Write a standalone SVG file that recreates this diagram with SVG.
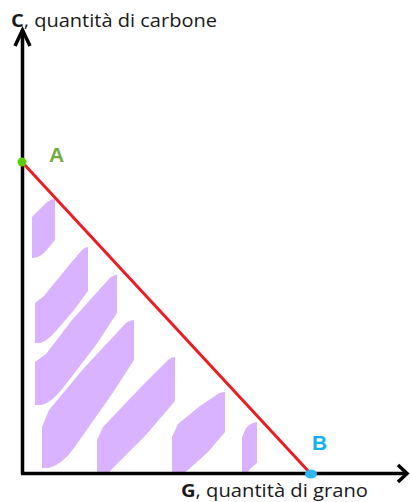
<svg xmlns="http://www.w3.org/2000/svg" width="410" height="502" viewBox="0 0 410 502">
<style>
.hatch{fill:#d9b3ff;stroke:none}
.axis{stroke:#000;stroke-width:3.5;fill:none}
.lbl{font-family:"Open Sans","Liberation Sans",sans-serif;font-size:18px;fill:#1a1a1a}
.pt{font-family:"Liberation Sans",sans-serif;font-size:21px;font-weight:bold}
</style>
<rect width="410" height="502" fill="#fff"/>
<g id="region">
<path class="hatch" d="M32,217 L47,202 Q51,199 55,199 L55,240 L45,252 Q39,258 32,258 Z"/>
<path class="hatch" d="M35,303 L44,296 L70,264 L82,250 Q85,247 88,247 L88,291 L74,310 L56,331 Q46,342 40,343 L35,343 Z"/>
<path class="hatch" d="M35,362 L46,354 L72,320 L108,280 Q112,275 117,275 L117,313 L96,345 L66,384 Q52,403 41,405 L35,405 Z"/>
<path class="hatch" d="M42,427 L49,410 L84,368 L126,323 Q130,320 134,320 L134,360 L112,394 L74,448 Q62,465 48,468 L42,468 Z"/>
<path class="hatch" d="M97,440 L103,427 L142,386 L168,360 Q171,357 175,357 L175,401 L145,436 L112,469 L108,474 L97,474 Z"/>
<path class="hatch" d="M172,437 L178,424 L200,406 L215,396 Q220,392 225,392 L225,432 L208,452 L188,470 L182,474 L172,474 Z"/>
<path class="hatch" d="M242,437 L246,428 Q250,423 257,422 L257,463 L250,469 L247,474 L242,474 Z"/>
</g>
<g id="connectors">
<line class="axis" x1="22.5" y1="30" x2="22.5" y2="474"/>
<line class="axis" x1="21" y1="473.5" x2="407" y2="473.5"/>
<polyline class="axis" points="15,46 22.5,30 30,46" stroke-linejoin="miter"/>
<polyline class="axis" points="398,465 407,473.5 398,482"/>
<line x1="22" y1="162" x2="311" y2="474" stroke="#ec1c24" stroke-width="3"/>
</g>
<g id="point-A">
<circle cx="22" cy="162" r="4.5" fill="#5fcc0a"/>
<text class="pt" x="49" y="162" fill="#74ad3f">A</text>
</g>
<g id="point-B">
<ellipse cx="311" cy="474" rx="6" ry="4.5" fill="#2db9f0"/>
<text class="pt" x="312" y="450" fill="#13aff0">B</text>
</g>
<g id="label-C">
<text class="lbl" x="11" y="27" textLength="206" lengthAdjust="spacingAndGlyphs"><tspan font-weight="bold">C</tspan>, quantità di carbone</text>
</g>
<g id="label-G">
<text class="lbl" x="181" y="497" textLength="187" lengthAdjust="spacingAndGlyphs"><tspan font-weight="bold">G</tspan>, quantità di grano</text>
</g>
</svg>
